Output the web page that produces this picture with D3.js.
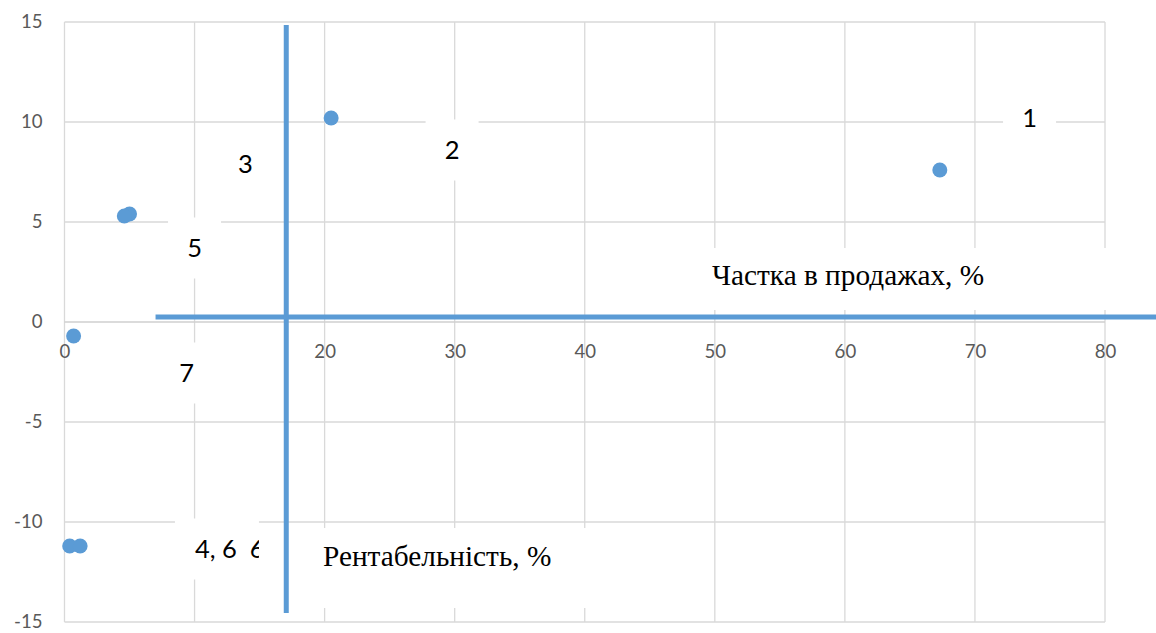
<!DOCTYPE html>
<html>
<head>
<meta charset="utf-8">
<script src="https://cdn.jsdelivr.net/npm/d3@7"></script>
<style>
  html, body { margin: 0; padding: 0; background: #fff; }
  svg { display: block; }
</style>
</head>
<body>
<svg id="chart" width="1156" height="633"></svg>
<script>
// Product groups: share of sales (%) vs. profitability (%)
const pointNames = ["1", "2", "3", "4", "5", "6", "7"];
const salesShare = [67.3, 20.5, 5.0, 0.4, 4.6, 1.2, 0.7];
const profitability = [7.6, 10.2, 5.4, -11.2, 5.3, -11.2, -0.7];

// Data label texts as they appear on the chart
const labelTexts = ["1", "2", "3", "5", "7", "4, 6  6"];

// Tick values
const xTicks = [0, 10, 20, 30, 40, 50, 60, 70, 80];
const yTicks = [-15, -10, -5, 0, 5, 10, 15];

// Quadrant divider lines (data units)
const hLineY = 0.25, hLineX = [7.0, 84];
const vLineX = 17.05, vLineY = [-14.55, 14.85];

// Axis captions
const xCaption = "Частка в продажах, %";
const yCaption = "Рентабельність, %";

const svg = d3.select("#chart");
const x = d3.scaleLinear().domain([0, 80]).range([64.5, 1105]);
const y = d3.scaleLinear().domain([-15, 15]).range([622, 22]);

const blue = "#5b9bd5";
const gridColor = "#d9d9d9";
const tickFont = "Lato, 'Open Sans', sans-serif";
const serifFont = "'Liberation Serif', 'Times New Roman', serif";

// Gridlines
const grid = svg.append("g");
grid.selectAll(".vg").data(xTicks).join("line")
  .attr("x1", d => x(d)).attr("x2", d => x(d))
  .attr("y1", y(15)).attr("y2", y(-15))
  .attr("stroke", gridColor).attr("stroke-width", 1.3);
grid.selectAll(".hg").data(yTicks).join("line")
  .attr("x1", x(0)).attr("x2", x(80))
  .attr("y1", d => y(d)).attr("y2", d => y(d))
  .attr("stroke", d => d === 0 ? "#cfcfcf" : gridColor).attr("stroke-width", 1.3);

// Axes (labels only, plain hyphen for negatives)
const plain = d => String(d);
const xAxis = svg.append("g")
  .attr("transform", `translate(0,${y(0)})`)
  .call(d3.axisBottom(x).tickValues(xTicks).tickFormat(plain).tickSize(0).tickPadding(23));
const yAxis = svg.append("g")
  .attr("transform", `translate(${x(0)},0)`)
  .call(d3.axisLeft(y).tickValues(yTicks).tickFormat(plain).tickSize(0).tickPadding(22));
[xAxis, yAxis].forEach(a => {
  a.select(".domain").remove();
  a.selectAll("text")
    .attr("fill", "#595959")
    .style("font-family", tickFont)
    .style("font-size", "18.6px");
});

// Data label boxes: centre in data units, box width in px
const labelLayout = [
  { pos: [74.2, 10.2], w: 53 },
  { pos: [29.8, 8.6], w: 53 },
  { pos: [13.9, 7.9], w: 53 },
  { pos: [10.0, 3.7], w: 53 },
  { pos: [9.4, -2.55], w: 54 },
  { pos: [11.72, -11.35], w: 84 }
];
const boxH = 61;
const labels = svg.append("g");
labelLayout.forEach((l, i) => {
  const cx = x(l.pos[0]), cy = y(l.pos[1]);
  const id = "clip" + i;
  labels.append("clipPath").attr("id", id)
    .append("rect")
    .attr("x", cx - l.w / 2).attr("y", cy - boxH / 2)
    .attr("width", l.w).attr("height", boxH);
  labels.append("rect")
    .attr("x", cx - l.w / 2).attr("y", cy - boxH / 2)
    .attr("width", l.w).attr("height", boxH)
    .attr("fill", "#fff");
  labels.append("text")
    .attr("clip-path", `url(#${id})`)
    .attr("x", i === 5 ? cx - l.w / 2 + 20 : cx)
    .attr("y", cy + 9)
    .attr("text-anchor", i === 5 ? "start" : "middle")
    .attr("fill", "#000")
    .style("white-space", "pre")
    .style("font-family", tickFont)
    .style("font-size", "25.5px")
    .text(labelTexts[i]);
});

// Axis caption boxes
const captions = svg.append("g");
captions.append("rect")
  .attr("x", 690).attr("y", y(3.7)).attr("width", 440).attr("height", y(0.6) - y(3.7))
  .attr("fill", "#fff");
captions.append("text")
  .attr("x", 712).attr("y", y(1.85))
  .style("font-family", serifFont)
  .style("font-size", "29.3px")
  .attr("fill", "#000")
  .text(xCaption);
captions.append("rect")
  .attr("x", 298).attr("y", y(-10.3)).attr("width", 302).attr("height", y(-14.3) - y(-10.3))
  .attr("fill", "#fff");
captions.append("text")
  .attr("x", 323).attr("y", y(-12.2))
  .style("font-family", serifFont)
  .style("font-size", "29.3px")
  .attr("fill", "#000")
  .text(yCaption);

// Quadrant divider lines
svg.append("line")
  .attr("x1", x(hLineX[0])).attr("x2", x(hLineX[1]))
  .attr("y1", y(hLineY)).attr("y2", y(hLineY))
  .attr("stroke", blue).attr("stroke-width", 5);
svg.append("line")
  .attr("x1", x(vLineX)).attr("x2", x(vLineX))
  .attr("y1", y(vLineY[1])).attr("y2", y(vLineY[0]))
  .attr("stroke", blue).attr("stroke-width", 5);

// Points
svg.append("g").selectAll("circle")
  .data(pointNames.map((n, i) => ({ n, sx: salesShare[i], py: profitability[i] })))
  .join("circle")
  .attr("cx", d => x(d.sx))
  .attr("cy", d => y(d.py))
  .attr("r", 7.5)
  .attr("fill", blue);
</script>
</body>
</html>
